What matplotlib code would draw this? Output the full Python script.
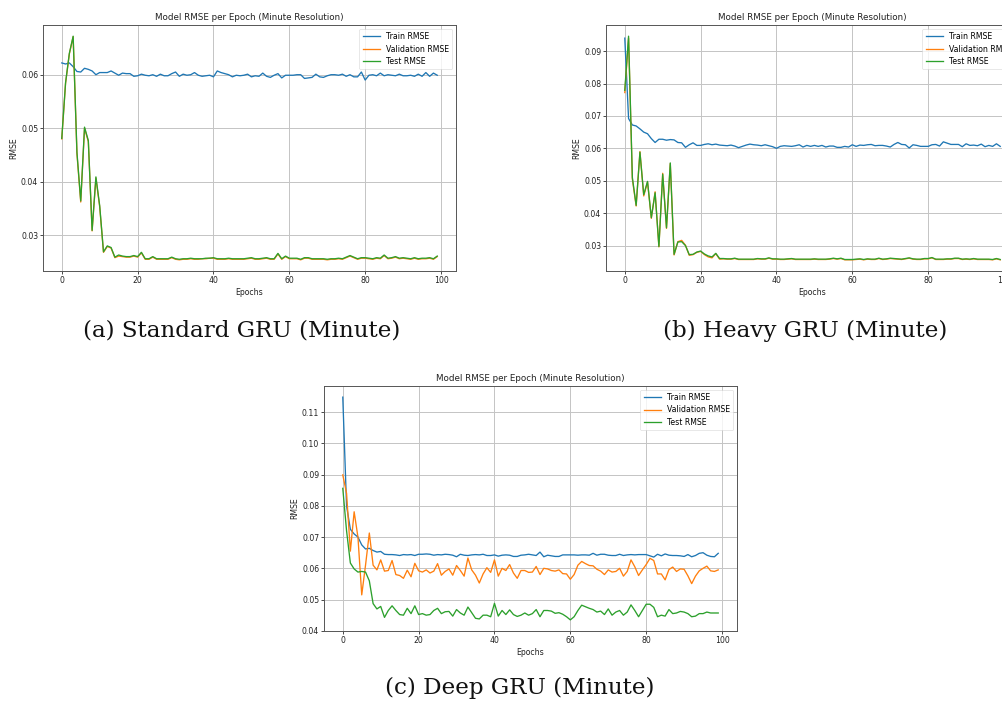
import matplotlib
matplotlib.use("Agg")
import matplotlib.pyplot as plt
import numpy as np

epochs = list(range(100))

train_a = [0.0622, 0.0620, 0.0622, 0.0615, 0.0606, 0.0605, 0.0612, 0.0610, 0.0607, 0.0600,
           0.0604, 0.0604, 0.0604, 0.0607, 0.0603, 0.0599, 0.0603, 0.0602, 0.0602, 0.0597,
           0.0598, 0.0601, 0.0599, 0.0598, 0.0600, 0.0597, 0.0601, 0.0598, 0.0598, 0.0602,
           0.0605, 0.0597, 0.0601, 0.0599, 0.0600, 0.0604, 0.0599, 0.0597, 0.0598, 0.0599,
           0.0596, 0.0607, 0.0604, 0.0602, 0.0600, 0.0596, 0.0599, 0.0598, 0.0599, 0.0601,
           0.0596, 0.0598, 0.0597, 0.0603, 0.0597, 0.0595, 0.0599, 0.0602, 0.0594, 0.0599,
           0.0599, 0.0599, 0.0600, 0.0600, 0.0593, 0.0594, 0.0595, 0.0601, 0.0596, 0.0595,
           0.0598, 0.0600, 0.0600, 0.0599, 0.0601, 0.0597, 0.0600, 0.0596, 0.0596, 0.0605,
           0.0590, 0.0599, 0.0600, 0.0598, 0.0603, 0.0598, 0.0600, 0.0599, 0.0598, 0.0601,
           0.0598, 0.0598, 0.0599, 0.0597, 0.0601, 0.0597, 0.0604, 0.0597, 0.0603, 0.0599]
val_a = [0.0480, 0.0584, 0.0639, 0.0671, 0.0452, 0.0362, 0.0500, 0.0475, 0.0308, 0.0407,
         0.0353, 0.0268, 0.0279, 0.0276, 0.0258, 0.0261, 0.0260, 0.0259, 0.0259, 0.0261,
         0.0259, 0.0267, 0.0255, 0.0255, 0.0259, 0.0255, 0.0255, 0.0255, 0.0255, 0.0258,
         0.0255, 0.0254, 0.0255, 0.0255, 0.0256, 0.0255, 0.0255, 0.0256, 0.0256, 0.0257,
         0.0257, 0.0255, 0.0255, 0.0255, 0.0256, 0.0255, 0.0255, 0.0255, 0.0255, 0.0256,
         0.0257, 0.0255, 0.0255, 0.0256, 0.0257, 0.0255, 0.0255, 0.0265, 0.0255, 0.0260,
         0.0256, 0.0256, 0.0256, 0.0254, 0.0257, 0.0257, 0.0255, 0.0255, 0.0255, 0.0255,
         0.0254, 0.0255, 0.0255, 0.0256, 0.0255, 0.0258, 0.0261, 0.0258, 0.0255, 0.0257,
         0.0257, 0.0256, 0.0255, 0.0257, 0.0256, 0.0262, 0.0256, 0.0257, 0.0259, 0.0256,
         0.0257, 0.0256, 0.0255, 0.0257, 0.0255, 0.0256, 0.0256, 0.0257, 0.0255, 0.0260]
test_a = [0.0481, 0.0585, 0.0640, 0.0672, 0.0455, 0.0364, 0.0502, 0.0477, 0.0309, 0.0409,
          0.0355, 0.0269, 0.0280, 0.0277, 0.0259, 0.0263, 0.0261, 0.0260, 0.0260, 0.0262,
          0.0260, 0.0268, 0.0256, 0.0256, 0.0260, 0.0256, 0.0256, 0.0256, 0.0256, 0.0259,
          0.0256, 0.0255, 0.0256, 0.0256, 0.0257, 0.0256, 0.0256, 0.0256, 0.0257, 0.0257,
          0.0258, 0.0256, 0.0256, 0.0256, 0.0257, 0.0256, 0.0256, 0.0256, 0.0256, 0.0257,
          0.0258, 0.0256, 0.0256, 0.0257, 0.0258, 0.0256, 0.0256, 0.0266, 0.0256, 0.0261,
          0.0257, 0.0257, 0.0257, 0.0255, 0.0258, 0.0258, 0.0256, 0.0256, 0.0256, 0.0256,
          0.0255, 0.0256, 0.0256, 0.0257, 0.0256, 0.0259, 0.0262, 0.0259, 0.0256, 0.0258,
          0.0258, 0.0257, 0.0256, 0.0258, 0.0257, 0.0263, 0.0257, 0.0258, 0.0260, 0.0257,
          0.0258, 0.0257, 0.0256, 0.0258, 0.0256, 0.0257, 0.0257, 0.0258, 0.0256, 0.0261]

train_b = [0.0940, 0.0692, 0.0672, 0.0669, 0.0660, 0.0650, 0.0645, 0.0630, 0.0618, 0.0628,
           0.0628, 0.0625, 0.0627, 0.0626, 0.0618, 0.0617, 0.0603, 0.0611, 0.0617, 0.0609,
           0.0609, 0.0612, 0.0614, 0.0611, 0.0613, 0.0610, 0.0609, 0.0608, 0.0610, 0.0607,
           0.0602, 0.0606, 0.0610, 0.0613, 0.0611, 0.0610, 0.0608, 0.0611, 0.0608, 0.0605,
           0.0600, 0.0606, 0.0608, 0.0607, 0.0606, 0.0608, 0.0611, 0.0604, 0.0609, 0.0606,
           0.0609, 0.0606, 0.0609, 0.0604, 0.0607, 0.0607, 0.0603, 0.0603, 0.0606, 0.0604,
           0.0611, 0.0606, 0.0610, 0.0609, 0.0611, 0.0612, 0.0608, 0.0609, 0.0609, 0.0607,
           0.0604, 0.0612, 0.0618, 0.0612, 0.0611, 0.0601, 0.0611, 0.0609, 0.0606, 0.0606,
           0.0606, 0.0611, 0.0612, 0.0607, 0.0620, 0.0616, 0.0612, 0.0612, 0.0612, 0.0605,
           0.0614, 0.0609, 0.0610, 0.0608, 0.0613, 0.0605, 0.0609, 0.0606, 0.0614, 0.0606]
val_b = [0.0772, 0.0940, 0.0505, 0.0422, 0.0590, 0.0453, 0.0496, 0.0384, 0.0466, 0.0296,
         0.0523, 0.0353, 0.0553, 0.0271, 0.0312, 0.0316, 0.0301, 0.0270, 0.0272, 0.0279,
         0.0282, 0.0272, 0.0265, 0.0262, 0.0275, 0.0258, 0.0259, 0.0258, 0.0258, 0.0260,
         0.0257, 0.0257, 0.0257, 0.0257, 0.0257, 0.0259, 0.0258, 0.0258, 0.0261, 0.0258,
         0.0258, 0.0257, 0.0257, 0.0258, 0.0259, 0.0257, 0.0257, 0.0257, 0.0257, 0.0257,
         0.0258, 0.0257, 0.0257, 0.0257, 0.0258, 0.0260, 0.0258, 0.0260, 0.0256, 0.0256,
         0.0256, 0.0257, 0.0258, 0.0256, 0.0258, 0.0257, 0.0257, 0.0260, 0.0257, 0.0258,
         0.0260, 0.0259, 0.0258, 0.0257, 0.0259, 0.0261, 0.0258, 0.0257, 0.0257, 0.0259,
         0.0259, 0.0262, 0.0257, 0.0257, 0.0257, 0.0258, 0.0258, 0.0260, 0.0260, 0.0257,
         0.0258, 0.0257, 0.0259, 0.0257, 0.0257, 0.0257, 0.0257, 0.0256, 0.0259, 0.0256]
test_b = [0.0779, 0.0946, 0.0510, 0.0424, 0.0588, 0.0457, 0.0498, 0.0386, 0.0463, 0.0297,
          0.0520, 0.0355, 0.0555, 0.0273, 0.0311, 0.0312, 0.0300, 0.0272, 0.0273, 0.0280,
          0.0283, 0.0274, 0.0268, 0.0265, 0.0276, 0.0260, 0.0260, 0.0259, 0.0259, 0.0261,
          0.0258, 0.0258, 0.0258, 0.0258, 0.0258, 0.0260, 0.0259, 0.0259, 0.0262, 0.0259,
          0.0259, 0.0258, 0.0258, 0.0259, 0.0260, 0.0258, 0.0258, 0.0258, 0.0258, 0.0258,
          0.0259, 0.0258, 0.0258, 0.0258, 0.0259, 0.0261, 0.0259, 0.0261, 0.0257, 0.0257,
          0.0257, 0.0258, 0.0259, 0.0257, 0.0259, 0.0258, 0.0258, 0.0261, 0.0258, 0.0259,
          0.0261, 0.0260, 0.0259, 0.0258, 0.0260, 0.0262, 0.0259, 0.0258, 0.0258, 0.0260,
          0.0260, 0.0263, 0.0258, 0.0258, 0.0258, 0.0259, 0.0259, 0.0261, 0.0261, 0.0258,
          0.0259, 0.0258, 0.0260, 0.0258, 0.0258, 0.0258, 0.0258, 0.0257, 0.0260, 0.0257]

train_c = [0.1148, 0.0800, 0.0725, 0.0710, 0.0700, 0.0675, 0.0662, 0.0664, 0.0657, 0.0652,
           0.0654, 0.0645, 0.0644, 0.0644, 0.0643, 0.0641, 0.0644, 0.0643, 0.0644, 0.0641,
           0.0645, 0.0645, 0.0646, 0.0645, 0.0642, 0.0644, 0.0643, 0.0645, 0.0644, 0.0642,
           0.0637, 0.0645, 0.0642, 0.0641, 0.0643, 0.0644, 0.0643, 0.0645, 0.0641, 0.0641,
           0.0643, 0.0639, 0.0642, 0.0643, 0.0642, 0.0638, 0.0638, 0.0642, 0.0643, 0.0645,
           0.0643, 0.0641, 0.0652, 0.0637, 0.0642, 0.0640, 0.0638, 0.0638, 0.0643, 0.0643,
           0.0643, 0.0643, 0.0642, 0.0643, 0.0643, 0.0642, 0.0648, 0.0642, 0.0645, 0.0645,
           0.0642, 0.0641, 0.0641, 0.0645, 0.0641, 0.0643, 0.0644, 0.0643, 0.0644, 0.0644,
           0.0644, 0.0640, 0.0636, 0.0645, 0.0640, 0.0646, 0.0642, 0.0641, 0.0641, 0.0640,
           0.0638, 0.0644, 0.0637, 0.0641, 0.0648, 0.0650, 0.0642, 0.0638, 0.0637, 0.0648]
val_c = [0.0899, 0.0840, 0.0655, 0.0781, 0.0700, 0.0515, 0.0610, 0.0713, 0.0610, 0.0595,
         0.0627, 0.0591, 0.0593, 0.0625, 0.0580, 0.0577, 0.0568, 0.0594, 0.0573, 0.0616,
         0.0592, 0.0588, 0.0595, 0.0585, 0.0591, 0.0615, 0.0578, 0.0590, 0.0598, 0.0578,
         0.0609, 0.0593, 0.0575, 0.0633, 0.0595, 0.0578, 0.0553, 0.0582, 0.0602, 0.0587,
         0.0627, 0.0575, 0.0600, 0.0593, 0.0612, 0.0585, 0.0568, 0.0593, 0.0593, 0.0587,
         0.0588, 0.0606, 0.0580, 0.0600, 0.0598, 0.0593, 0.0591, 0.0595, 0.0583, 0.0582,
         0.0565, 0.0580, 0.0610, 0.0622, 0.0615, 0.0609, 0.0608, 0.0597, 0.0591, 0.0580,
         0.0595, 0.0588, 0.0590, 0.0600, 0.0575, 0.0590, 0.0627, 0.0605, 0.0577, 0.0595,
         0.0612, 0.0632, 0.0625, 0.0582, 0.0582, 0.0563, 0.0596, 0.0604, 0.0590, 0.0598,
         0.0597, 0.0576, 0.0551, 0.0575, 0.0592, 0.0600, 0.0607, 0.0592, 0.0590, 0.0595]
test_c = [0.0856, 0.0720, 0.0617, 0.0598, 0.0588, 0.0590, 0.0588, 0.0560, 0.0487, 0.0470,
          0.0478, 0.0443, 0.0465, 0.0480, 0.0465, 0.0452, 0.0450, 0.0472, 0.0455, 0.0480,
          0.0452, 0.0455, 0.0450, 0.0452, 0.0465, 0.0472, 0.0455, 0.0461, 0.0462, 0.0447,
          0.0468, 0.0457, 0.0450, 0.0476, 0.0458, 0.0440, 0.0438, 0.0450, 0.0450, 0.0445,
          0.0488, 0.0447, 0.0465, 0.0452, 0.0467, 0.0452, 0.0446, 0.0450, 0.0457, 0.0450,
          0.0455, 0.0468, 0.0445, 0.0465, 0.0465, 0.0463, 0.0456, 0.0458, 0.0453, 0.0445,
          0.0435, 0.0445, 0.0465, 0.0482, 0.0477, 0.0472, 0.0468, 0.0460, 0.0463, 0.0452,
          0.0470, 0.0450, 0.0460, 0.0465, 0.0450, 0.0460, 0.0483, 0.0465, 0.0445, 0.0465,
          0.0485, 0.0485, 0.0475, 0.0445, 0.0450, 0.0447, 0.0468, 0.0455, 0.0457, 0.0462,
          0.0460, 0.0455, 0.0445, 0.0447, 0.0455, 0.0455, 0.0460, 0.0457, 0.0457, 0.0457]

title_text = "Model RMSE per Epoch (Minute Resolution)"
series_labels = ["Train RMSE", "Validation RMSE", "Test RMSE"]
captions = ["(a) Standard GRU (Minute)", "(b) Heavy GRU (Minute)", "(c) Deep GRU (Minute)"]
colors = ["#1f77b4", "#ff7f0e", "#2ca02c"]

W, H = 1003, 702
fig = plt.figure(figsize=(W / 100, H / 100), dpi=100)

def px_axes(left, top, right, bottom):
    return fig.add_axes([left / W, 1 - bottom / H, (right - left) / W, (bottom - top) / H])

panels = [
    (px_axes(43, 25, 456, 271), (train_a, val_a, test_a)),
    (px_axes(606, 25, 1019, 271), (train_b, val_b, test_b)),
    (px_axes(324, 386, 737, 631), (train_c, val_c, test_c)),
]

fs = 5.6
for ax, series in panels:
    for ys, lab, col in zip(series, series_labels, colors):
        ax.plot(epochs, ys, color=col, lw=0.95, label=lab)
    ax.set_title(title_text, fontsize=6.35, pad=3.5, color="#222222")
    ax.set_xlabel("Epochs", fontsize=fs, labelpad=2, color="#222222")
    ax.set_ylabel("RMSE", fontsize=fs, labelpad=2, color="#222222")
    ax.tick_params(labelsize=fs, length=2, width=0.5, pad=1.5, labelcolor="#222222")
    ax.grid(True, color="#c4c4c4", lw=0.7)
    for s in ax.spines.values():
        s.set_linewidth(0.7)
        s.set_color("#555555")
    leg = ax.legend(loc="upper right", fontsize=fs, handlelength=2.2,
                    borderpad=0.4, labelspacing=0.45, fancybox=True, framealpha=0.8)
    leg.get_frame().set_linewidth(0.4)

cap_font = dict(family="DejaVu Serif", fontsize=16.6, color="#111111")
fig.text(242 / W, 1 - 331 / H, captions[0], ha="center", va="center", **cap_font)
fig.text(805 / W, 1 - 331 / H, captions[1], ha="center", va="center", **cap_font)
fig.text(520 / W, 1 - 688 / H, captions[2], ha="center", va="center", **cap_font)

fig.savefig("out.png", dpi=100)
